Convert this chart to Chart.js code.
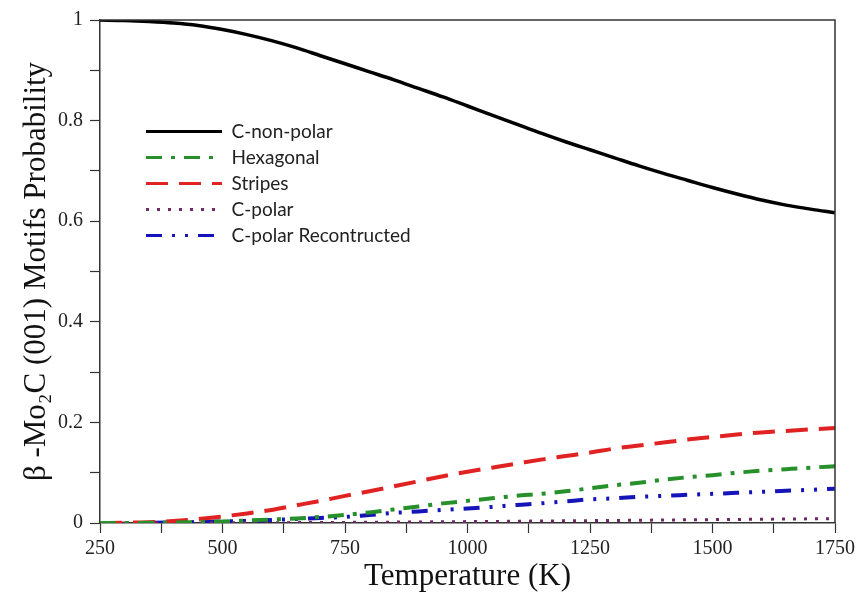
<!DOCTYPE html>
<html>
<head>
<meta charset="utf-8">
<script src="https://cdn.jsdelivr.net/npm/chart.js@4/dist/chart.umd.min.js"></script>
<style>
  html, body { margin: 0; padding: 0; background: #ffffff; }
  #wrap { width: 859px; height: 594px; }
</style>
</head>
<body>
<div id="wrap"><canvas id="c" width="859" height="594"></canvas></div>
<script>
// Temperature grid (K)
const temperatures = [250, 300, 350, 400, 450, 500, 550, 600, 650, 700, 750, 800, 850, 900, 950,
  1000, 1050, 1100, 1150, 1200, 1250, 1300, 1350, 1400, 1450, 1500, 1550, 1600, 1650, 1700, 1750];

// Motif probabilities at each temperature
const cNonPolar = [1.000, 0.999, 0.997, 0.994, 0.989, 0.981, 0.971, 0.959, 0.945, 0.929, 0.913, 0.897, 0.881,
  0.864, 0.847, 0.829, 0.811, 0.793, 0.775, 0.758, 0.742, 0.726, 0.710, 0.695, 0.681, 0.667, 0.654, 0.642,
  0.632, 0.624, 0.617];
const hexagonal = [0.000, 0.000, 0.0003, 0.001, 0.002, 0.003, 0.005, 0.007, 0.009, 0.012, 0.016, 0.021, 0.027,
  0.033, 0.039, 0.044, 0.049, 0.054, 0.058, 0.063, 0.069, 0.075, 0.080, 0.086, 0.091, 0.095, 0.100, 0.104,
  0.107, 0.110, 0.113];
const stripes = [0.000, 0.0005, 0.0015, 0.004, 0.008, 0.013, 0.019, 0.026, 0.035, 0.044, 0.054, 0.063, 0.073,
  0.083, 0.093, 0.102, 0.110, 0.118, 0.126, 0.133, 0.140, 0.148, 0.154, 0.160, 0.166, 0.171, 0.176, 0.180,
  0.183, 0.186, 0.189];
const cPolar = [0.000, 0.000, 0.000, 0.000, 0.0002, 0.0003, 0.0004, 0.0006, 0.0008, 0.0010, 0.0012, 0.0015,
  0.0018, 0.0021, 0.0024, 0.0028, 0.0031, 0.0035, 0.0039, 0.0043, 0.0047, 0.0051, 0.0055, 0.0059, 0.0063,
  0.0067, 0.0071, 0.0075, 0.0079, 0.0083, 0.0087];
const cPolarReconstructed = [0.000, 0.000, 0.0003, 0.001, 0.002, 0.003, 0.004, 0.006, 0.008, 0.010, 0.012,
  0.016, 0.020, 0.023, 0.026, 0.029, 0.032, 0.036, 0.039, 0.043, 0.047, 0.049, 0.052, 0.054, 0.056, 0.058,
  0.060, 0.062, 0.064, 0.066, 0.068];

const seriesLabels = ['C-non-polar', 'Hexagonal', 'Stripes', 'C-polar', 'C-polar Recontructed'];

const toPoints = (vals) => vals.map((v, i) => ({ x: temperatures[i], y: v }));

const TICK_FONT = { family: "'Liberation Serif', 'Times New Roman', serif", size: 20 };
const TITLE_FONT = { family: "'Liberation Serif', 'Times New Roman', serif", size: 31 };
const AXIS_COLOR = '#333333';

// Closes the plot frame on the top and right sides
const framePlugin = {
  id: 'frame',
  afterDraw(chart) {
    const { ctx, chartArea: a } = chart;
    ctx.save();
    ctx.strokeStyle = AXIS_COLOR;
    ctx.lineWidth = 1.5;
    ctx.beginPath();
    ctx.moveTo(a.left, a.top);
    ctx.lineTo(a.right, a.top);
    ctx.lineTo(a.right, a.bottom);
    ctx.stroke();
    ctx.restore();
  }
};

// Places the legend inside the plot, upper left
const legendPlacement = {
  id: 'legendPlacement',
  beforeDraw(chart) {
    const lg = chart.legend;
    if (!lg) return;
    const w = lg.width, h = lg.height;
    lg.left = 139; lg.top = 115;
    lg.right = lg.left + w; lg.bottom = lg.top + h;
  }
};

const datasetStyle = (label, data, color, width, dash) => ({
  label, data: toPoints(data),
  borderColor: color, backgroundColor: color,
  borderWidth: width, borderDash: dash,
  pointRadius: 0, fill: false,
  cubicInterpolationMode: 'monotone'
});

new Chart(document.getElementById('c'), {
  type: 'line',
  data: {
    datasets: [
      datasetStyle(seriesLabels[0], cNonPolar, '#000000', 3.5, []),
      datasetStyle(seriesLabels[1], hexagonal, '#27902a', 4, [16, 9, 4, 9]),
      datasetStyle(seriesLabels[2], stripes, '#e02222', 4, [22, 11]),
      datasetStyle(seriesLabels[3], cPolar, '#6e2a63', 3, [3, 8]),
      datasetStyle(seriesLabels[4], cPolarReconstructed, '#1414b8', 4, [16, 10, 3, 10, 3, 10])
    ]
  },
  options: {
    responsive: false,
    animation: false,
    layout: { padding: { top: 20, right: 22, left: 0, bottom: 0 } },
    plugins: {
      tooltip: { enabled: false },
      legend: {
        position: 'chartArea',
        align: 'start',
        labels: {
          usePointStyle: true,
          pointStyleWidth: 76,
          padding: 7,
          color: '#222222',
          font: { family: "Lato, 'Open Sans', sans-serif", size: 19 },
          generateLabels(chart) {
            return chart.data.datasets.map((ds, i) => ({
              text: ds.label,
              strokeStyle: ds.borderColor,
              fillStyle: ds.borderColor,
              lineWidth: 3,
              lineDash: ds.borderDash,
              lineCap: 'butt',
              pointStyle: 'line',
              hidden: false,
              fontColor: '#222222',
              datasetIndex: i
            }));
          }
        }
      }
    },
    scales: {
      x: {
        type: 'linear',
        min: 250, max: 1750,
        afterFit(scale) { scale.height = 71; },
        border: { display: true, color: AXIS_COLOR, width: 1.5 },
        grid: { drawOnChartArea: false, drawTicks: true, tickLength: 10, tickColor: AXIS_COLOR, tickWidth: 1.2 },
        ticks: {
          stepSize: 125, autoSkip: false, maxRotation: 0, padding: 4,
          color: '#222222', font: TICK_FONT,
          callback: (v) => (v % 250 === 0 ? String(v) : '')
        },
        title: { display: true, text: 'Temperature (K)', color: '#111111', font: TITLE_FONT, padding: { top: 0, bottom: -1 } }
      },
      y: {
        type: 'linear',
        min: 0, max: 1,
        afterFit(scale) { scale.width = 100; },
        border: { display: true, color: AXIS_COLOR, width: 1.5 },
        grid: { drawOnChartArea: false, drawTicks: true, tickLength: 10, tickColor: AXIS_COLOR, tickWidth: 1.2 },
        ticks: {
          stepSize: 0.1, autoSkip: false, padding: 7,
          color: '#222222', font: TICK_FONT,
          callback: (v) => {
            const k = Math.round(v * 10);
            if (k % 2 !== 0) return '';
            if (k === 0) return '0';
            if (k === 10) return '1';
            return (k / 10).toFixed(1);
          }
        },
        title: { display: true, text: 'β -Mo₂C (001) Motifs Probability', color: '#111111', font: TITLE_FONT, padding: { top: 18, bottom: 0 } }
      }
    }
  },
  plugins: [framePlugin, legendPlacement]
});
</script>
</body>
</html>
